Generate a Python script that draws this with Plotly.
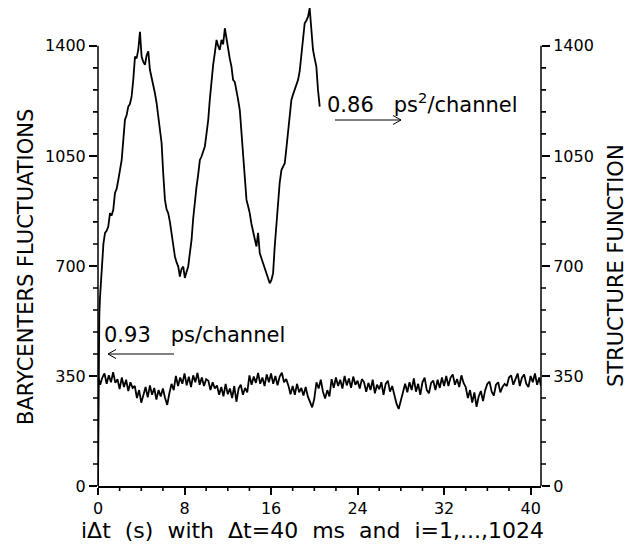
import plotly.graph_objects as go

# ---------------- data ----------------
bc_t = [round(i * 0.2, 2) for i in range(205)] + [40.96]
bc_v = [
    350, 322, 345,
    358, 325, 352, 330, 362, 328,
    340, 308, 345, 315, 338, 302, 330, 312,
    318, 280, 305, 265, 295,
    315, 282, 320, 290, 312, 275, 305, 285,
    310, 280, 258, 295, 325, 305,
    350, 318, 345, 325, 358, 320, 348, 315, 352, 330, 360, 322, 345, 318, 340,
    335, 305, 330, 310,
    320, 290, 315, 285, 325, 292, 310, 280, 318, 268, 310, 322, 290, 312, 298,
    352, 322, 348, 328, 360, 325, 345, 318, 355, 330, 358, 325, 350, 320, 348, 360, 330, 340,
    320, 292, 318, 290, 325, 298, 312, 288, 315,
    285, 268, 250, 278,
    330, 310, 338,
    300, 278, 305, 285,
    340, 312, 345, 318, 338, 310, 350, 320, 342, 312, 348, 322, 335, 310, 340,
    330, 300, 328, 305, 338, 295, 322, 308, 330, 290, 325, 335, 300, 318,
    290, 262, 245, 275, 305,
    325, 298, 330, 305, 342, 300, 325, 290, 330, 345, 305, 295, 328,
    335, 305, 338, 312, 345, 318,
    350, 318, 345, 355, 322, 340, 315, 352, 328,
    315, 280, 305, 265, 298, 252, 285, 302, 270,
    305, 325, 332, 300, 288, 322, 330, 298, 315, 325,
    318, 345, 352, 322, 340, 358, 318, 345, 355, 325, 315, 350, 330, 358, 322, 345,
    318,
]

# Structure function
sf_t = [0, 0.04, 0.08, 0.12, 0.18, 0.35, 0.5, 0.65, 0.8, 0.95,
        1.11, 1.25, 1.41, 1.57, 1.72, 1.88, 2.03, 2.19, 2.34, 2.49,
        2.65, 2.80, 2.95, 3.11, 3.26, 3.42, 3.57, 3.72, 3.88, 3.96,
        4.03, 4.18, 4.34, 4.5, 4.65, 4.8, 4.95, 5.11, 5.26, 5.42,
        5.57, 5.72, 5.88, 6.03, 6.19, 6.34, 6.49, 6.65, 6.80, 6.95,
        7.11, 7.26, 7.42, 7.57, 7.72, 7.88, 8.03, 8.18, 8.34, 8.49,
        8.65, 8.8, 8.96, 9.11, 9.26, 9.42, 9.57, 9.72, 9.88, 10.03,
        10.19, 10.34, 10.5, 10.65, 10.8, 10.96, 11.11, 11.26, 11.42, 11.57,
        11.73, 11.88, 12.03, 12.18, 12.34, 12.49, 12.65, 12.8, 12.95, 13.11,
        13.26, 13.42, 13.57, 13.73, 13.88, 14.03, 14.18, 14.34, 14.5, 14.65,
        14.8, 14.96, 15.11, 15.26, 15.42, 15.57, 15.72, 15.88, 16.03, 16.19,
        16.34, 16.5, 16.65, 16.8, 16.96, 17.11, 17.27, 17.42, 17.57, 17.72,
        17.88, 18.03, 18.19, 18.34, 18.5, 18.65, 18.81, 18.96, 19.11, 19.26,
        19.42, 19.57, 19.73, 19.88, 20.03, 20.19, 20.34, 20.5]
sf_v = [0, 300, 460, 540, 597, 700, 770, 805, 812, 825,
        868, 860, 878, 932, 945, 974, 1000, 1037, 1101, 1164,
        1180, 1207, 1215, 1239, 1292, 1366, 1360, 1387, 1445, 1400,
        1366, 1350, 1340, 1370, 1383, 1324, 1300, 1281, 1250, 1218,
        1175, 1140, 1091, 995, 910, 880, 868, 840, 805, 770,
        730, 712, 698, 666, 690, 698, 662, 680, 698, 740,
        783, 850, 910, 952, 990, 1037, 1048, 1062, 1080, 1120,
        1164, 1230, 1292, 1340, 1377, 1419, 1400, 1387, 1419, 1405,
        1456, 1420, 1387, 1360, 1334, 1292, 1285, 1260, 1230, 1196,
        1120, 1037, 970, 910, 890, 868, 835, 805, 785, 762,
        805, 740, 725, 709, 695, 677, 660, 645, 655, 677,
        762, 840, 921, 965, 1005, 1015, 1027, 1075, 1122, 1180,
        1228, 1245, 1260, 1275, 1292, 1320, 1366, 1420, 1472, 1480,
        1493, 1520, 1440, 1387, 1360, 1334, 1260, 1207]

x_major = [0, 8, 16, 24, 32, 40]
x_minor = [2, 4, 6, 10, 12, 14, 18, 20, 22, 26, 28, 30, 34, 36, 38]
y_major = [0, 350, 700, 1050, 1400]
y_minor = [70, 140, 210, 280, 420, 490, 560, 630, 770, 840, 910, 980,
           1120, 1190, 1260, 1330]

NB = "\u00a0"
x_title = (NB * 2).join(["iΔt", "(s)", "with", "Δt=40", "ms", "and", "i=1,...,1024"])
left_title = "BARYCENTERS FLUCTUATIONS"
right_title = "STRUCTURE FUNCTION"
label_sf = "0.86" + NB * 3 + "ps<sup>2</sup>/channel"
label_bc = "0.93" + NB * 3 + "ps/channel"

# ---------------- figure ----------------
FONT = "DejaVu Sans"
XR = [0, 40.96]
YR = [0, 1530]
L, B, PW, PH = 98, 60, 443.0, 481.0  # plot area in px

fig = go.Figure()
fig.add_trace(go.Scatter(x=bc_t, y=bc_v, mode="lines",
                         line=dict(color="black", width=1.8), yaxis="y",
                         hoverinfo="skip"))
fig.add_trace(go.Scatter(x=sf_t, y=sf_v, mode="lines",
                         line=dict(color="black", width=1.8), yaxis="y2",
                         hoverinfo="skip"))

tick_font = dict(size=16, family=FONT, color="black")
base = dict(showgrid=False, zeroline=False, tickcolor="black", tickwidth=1.5,
            ticks="outside", tickmode="array")
ax_y = dict(range=YR, tickvals=y_major, ticklen=8, showline=False,
            tickfont=tick_font, **base)

fig.update_layout(
    width=639, height=546,
    margin=dict(l=L, r=98, t=5, b=B),
    plot_bgcolor="white", paper_bgcolor="white",
    showlegend=False,
    font=dict(family=FONT, color="black"),
    xaxis=dict(range=XR, tickvals=x_major, ticklen=7,
               showline=True, linewidth=1.5, linecolor="black",
               tickfont=tick_font, **base),
    yaxis=dict(side="left", **ax_y),
    yaxis2=dict(side="right", overlaying="y", anchor="x", **ax_y),
)


def xpaper(v):
    return (v - XR[0]) / (XR[1] - XR[0])


def ypaper(v):
    return (v - YR[0]) / (YR[1] - YR[0])


# vertical axis lines drawn only up to 1400
for xp in (0, 1):
    fig.add_shape(type="line", xref="paper", yref="paper", x0=xp, x1=xp,
                  y0=0, y1=ypaper(1400), line=dict(color="black", width=1.5))

# minor ticks: one SVG path per axis, placed in paper space from the tick arrays
MIN = 5.0
parts = []
for v in x_minor:
    parts.append("M{:.5f},0 L{:.5f},{:.5f}".format(xpaper(v), xpaper(v), -MIN / PH))
fig.add_shape(type="path", xref="paper", yref="paper", path=" ".join(parts),
              line=dict(color="black", width=1.6), layer="above")
parts = []
for v in y_minor:
    parts.append("M0,{:.5f} L{:.5f},{:.5f}".format(ypaper(v), -MIN / PW, ypaper(v)))
    parts.append("M1,{:.5f} L{:.5f},{:.5f}".format(ypaper(v), 1 + MIN / PW, ypaper(v)))
fig.add_shape(type="path", xref="paper", yref="paper", path=" ".join(parts),
              line=dict(color="black", width=1.6), layer="above")


def px(xp):
    return (xp - L) / PW


def py(yp):
    return (486 - yp) / PH


fig.add_annotation(text=left_title, xref="paper", yref="paper", x=px(26), y=py(267),
                   textangle=-90, showarrow=False, xanchor="center", yanchor="middle",
                   font=dict(size=21, family=FONT, color="black"))
fig.add_annotation(text=right_title, xref="paper", yref="paper", x=px(616), y=py(266),
                   textangle=-90, showarrow=False, xanchor="center", yanchor="middle",
                   font=dict(size=21, family=FONT, color="black"))
fig.add_annotation(text=x_title, xref="paper", yref="paper", x=px(312.5), y=py(530),
                   showarrow=False, xanchor="center", yanchor="middle",
                   font=dict(size=22, family=FONT, color="black"))

fig.add_annotation(text=label_sf, xref="paper", yref="paper", x=px(325), y=py(103),
                   showarrow=False, xanchor="left", yanchor="middle",
                   font=dict(size=21, family=FONT, color="black"))
fig.add_annotation(text=label_bc, xref="paper", yref="paper", x=px(102), y=py(335),
                   showarrow=False, xanchor="left", yanchor="middle",
                   font=dict(size=21, family=FONT, color="black"))


# arrows drawn as thin lines with open heads
def arrow(x_tail, x_head, y):
    d = 8 if x_head > x_tail else -8
    fig.add_shape(type="line", xref="paper", yref="paper",
                  x0=px(x_tail), x1=px(x_head), y0=py(y), y1=py(y),
                  line=dict(color="black", width=1))
    path = "M {a},{b} L {c},{d} L {e},{f}".format(
        a=px(x_head - d), b=py(y - 4.5), c=px(x_head), d=py(y),
        e=px(x_head - d), f=py(y + 4.5))
    fig.add_shape(type="path", xref="paper", yref="paper", path=path,
                  line=dict(color="black", width=1))


arrow(335, 401, 120)
arrow(174, 108, 354)

fig.write_html("out.html")
